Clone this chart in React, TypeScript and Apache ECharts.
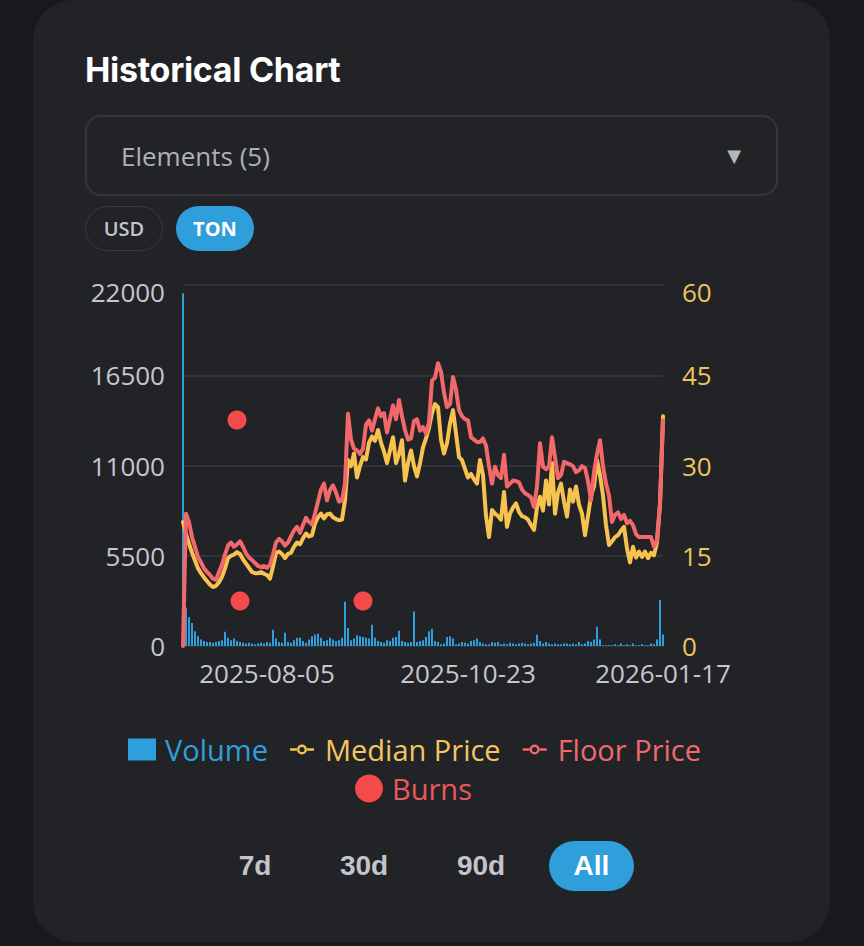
import React, { useEffect, useRef } from 'react';
import * as echarts from 'echarts';

// ---- data ----
const DATE_ANCHORS: [number, string][] = [
  [0, '2025-07-08'],
  [28, '2025-08-05'],
  [95, '2025-10-23'],
  [160, '2026-01-17'],
];
const LABEL_DATES = ['2025-08-05', '2025-10-23', '2026-01-17'];

const VOLUME = [
  21500, 2350, 1750, 1400, 900, 600, 400, 300, 250, 250,
  200, 250, 300, 350, 870, 500, 350, 450, 300, 250,
  200, 150, 200, 150, 100, 150, 200, 150, 250, 200,
  990, 450, 250, 200, 810, 250, 200, 350, 500, 500,
  300, 200, 400, 600, 700, 750, 500, 300, 350, 500,
  400, 300, 350, 500, 2700, 1100, 350, 450, 650, 600,
  550, 500, 450, 1300, 500, 300, 250, 200, 350, 300,
  500, 550, 930, 300, 250, 200, 250, 2100, 250, 300,
  350, 550, 900, 1050, 300, 250, 100, 150, 550, 600,
  450, 100, 150, 250, 200, 150, 300, 350, 450, 250,
  150, 100, 100, 250, 200, 250, 100, 150, 100, 200,
  150, 100, 150, 200, 150, 100, 150, 200, 680, 300,
  150, 250, 150, 100, 150, 100, 100, 150, 150, 100,
  150, 100, 250, 100, 150, 300, 250, 400, 1180, 400,
  50, 50, 50, 50, 100, 50, 150, 50, 100, 50,
  150, 50, 50, 100, 50, 50, 150, 100, 400, 2800,
  700,
];

const MEDIAN_PRICE = [
  20.6, 18.6, 17.0, 15.5, 14.2, 12.9, 12.1, 11.4, 10.8, 10.2,
  9.8, 10.0, 10.6, 11.5, 12.9, 14.6, 15.0, 15.2, 15.6, 15.3,
  14.4, 13.7, 13.0, 12.3, 12.1, 12.1, 12.3, 12.0, 11.8, 11.2,
  13.2, 15.5, 15.7, 15.3, 14.6, 15.3, 15.5, 16.5, 17.2, 16.9,
  17.9, 18.7, 18.2, 18.4, 20.4, 21.4, 22.0, 21.2, 21.9, 22.0,
  21.4, 21.1, 20.9, 21.0, 24.2, 30.9, 29.9, 32.0, 28.0, 29.9,
  31.4, 31.0, 33.8, 34.8, 34.1, 35.9, 33.8, 32.3, 30.4, 32.5,
  34.7, 30.4, 31.9, 34.2, 27.5, 30.4, 32.5, 29.9, 28.2, 30.4,
  33.0, 34.5, 36.3, 38.7, 40.2, 39.7, 34.3, 32.0, 33.7, 37.0,
  39.2, 35.3, 31.4, 30.9, 29.4, 28.0, 28.6, 27.7, 27.0, 30.9,
  28.4, 21.6, 18.1, 22.6, 22.0, 21.6, 21.0, 25.6, 19.8, 22.0,
  23.0, 23.7, 22.3, 21.6, 21.4, 21.0, 20.1, 19.3, 23.0, 24.8,
  22.5, 27.5, 23.5, 30.4, 22.0, 25.5, 27.0, 24.0, 21.5, 26.0,
  24.0, 26.5, 23.5, 22.0, 18.4, 21.6, 25.0, 26.5, 30.9, 28.4,
  25.0, 20.1, 16.8, 17.4, 18.1, 18.4, 19.2, 19.8, 16.2, 13.9,
  16.5, 14.7, 15.7, 14.8, 15.7, 14.6, 15.5, 15.1, 17.2, 23.5,
  38.2,
];

const FLOOR_PRICE = [
  0, 22.0, 20.6, 18.1, 16.5, 14.8, 13.9, 12.9, 12.3, 11.8,
  11.2, 11.0, 12.3, 13.5, 15.2, 16.7, 17.2, 16.5, 16.9, 17.4,
  16.5, 15.4, 14.7, 14.3, 13.8, 13.3, 13.1, 13.3, 13.0, 13.5,
  15.2, 17.2, 17.8, 17.4, 16.7, 17.2, 18.2, 19.2, 19.8, 18.8,
  20.1, 21.3, 20.6, 20.2, 22.0, 24.0, 26.0, 27.0, 24.2, 25.9,
  26.7, 25.5, 24.0, 24.2, 27.0, 38.6, 34.3, 32.8, 32.5, 31.9,
  32.8, 36.8, 37.5, 35.8, 37.7, 39.5, 38.2, 38.7, 35.5, 37.7,
  40.0, 37.7, 40.9, 38.2, 35.9, 34.3, 34.5, 37.4, 37.7, 35.8,
  36.4, 35.3, 37.2, 44.1, 44.6, 47.0, 45.6, 42.1, 39.7, 40.2,
  44.7, 42.6, 39.2, 38.2, 37.7, 37.5, 34.7, 34.3, 33.9, 33.9,
  34.5, 33.3, 29.9, 27.0, 29.8, 28.4, 27.9, 31.8, 26.5, 27.0,
  27.5, 27.4, 27.2, 26.0, 25.4, 25.1, 24.7, 23.1, 26.5, 33.7,
  29.8, 29.4, 29.8, 34.7, 31.4, 27.9, 28.4, 30.6, 30.4, 30.2,
  29.9, 28.9, 29.2, 29.9, 29.6, 27.4, 24.2, 28.9, 31.9, 34.2,
  29.9, 27.0, 25.0, 20.6, 21.8, 22.2, 21.1, 21.8, 20.4, 20.8,
  20.1, 18.6, 18.1, 18.1, 18.1, 18.1, 18.1, 16.5, 17.6, 23.7,
  37.5,
];

const BURN_INDEX = [18, 19, 60];
const BURN_VALUES = [13770, 2740, 2740];

const LEFT_TICKS = { min: 0, max: 22000, interval: 5500 };
const RIGHT_TICKS = { min: 0, max: 60, interval: 15 };

// ---- colours ----
const BLUE = '#2e9fdb';
const YELLOW = '#f8c24e';
const RED = '#f2686b';
const BURN_RED = '#f44a4a';
const CARD = '#222327';

// legend icon: short line with a hollow circle in the middle (28 x 22 box)
const LINE_ICON =
  'path://M14 0h0.01v0.01h-0.01Z' +
  'M2 9.7H9.3V12.3H2Z' +
  'M19 11A5 5 0 1 0 9 11A5 5 0 1 0 19 11Z' +
  'M16.6 11A2.6 2.6 0 1 1 11.4 11A2.6 2.6 0 1 1 16.6 11Z' +
  'M18.7 9.7H26V12.3H18.7Z' +
  'M14 22h0.01v-0.01h-0.01Z';

function buildDates(): string[] {
  const out: string[] = [];
  const day = 86400000;
  for (let s = 0; s < DATE_ANCHORS.length - 1; s++) {
    const [i0, d0] = DATE_ANCHORS[s];
    const [i1, d1] = DATE_ANCHORS[s + 1];
    const t0 = Date.parse(d0 + 'T00:00:00Z');
    const t1 = Date.parse(d1 + 'T00:00:00Z');
    const days = Math.round((t1 - t0) / day);
    for (let i = i0; i < i1; i++) {
      const t = t0 + Math.round((days * (i - i0)) / (i1 - i0)) * day;
      out.push(new Date(t).toISOString().slice(0, 10));
    }
  }
  out.push(DATE_ANCHORS[DATE_ANCHORS.length - 1][1]);
  return out;
}

const AXIS_FONT = '"Open Sans", sans-serif';

function Chart() {
  const ref = useRef<HTMLDivElement>(null);
  useEffect(() => {
    if (!ref.current) return;
    const chart = echarts.init(ref.current, undefined, { renderer: 'svg' });
    const dates = buildDates();
    const labelFont = { fontFamily: AXIS_FONT, fontSize: 26, lineHeight: 24 };
    const legendText = {
      fontFamily: AXIS_FONT,
      fontSize: 29,
      lineHeight: 28,
      padding: [0, 0, 0, 4],
    };
    chart.setOption({
      animation: false,
      backgroundColor: 'transparent',
      grid: { left: 150, top: 20, width: 480, height: 361, containLabel: false },
      legend: [
        {
          left: 95,
          top: 470,
          padding: 0,
          itemWidth: 28,
          itemHeight: 22,
          itemGap: 22,
          textStyle: legendText,
          data: [
            { name: 'Volume', icon: 'rect', textStyle: { color: BLUE } },
            { name: 'Median Price', icon: LINE_ICON, textStyle: { color: '#f4c560' } },
            { name: 'Floor Price', icon: LINE_ICON, textStyle: { color: '#ee6a6e' } },
          ],
        },
        {
          left: 322,
          top: 509,
          padding: 0,
          itemWidth: 28,
          itemHeight: 28,
          textStyle: legendText,
          data: [{ name: 'Burns', icon: 'circle', textStyle: { color: '#e9595c' } }],
        },
      ],
      xAxis: {
        type: 'category',
        data: dates,
        boundaryGap: false,
        axisLine: { show: false },
        axisTick: { show: false },
        axisLabel: {
          color: '#c6c7cf',
          ...labelFont,
          margin: 15,
          interval: (_idx: number, val: string) => LABEL_DATES.includes(val),
        },
      },
      yAxis: [
        {
          type: 'value',
          ...LEFT_TICKS,
          position: 'left',
          axisLine: { show: false },
          axisTick: { show: false },
          splitLine: { lineStyle: { color: '#393a40', width: 1.5 } },
          axisLabel: {
            color: '#c6c7cf',
            ...labelFont,
            margin: 18,
            formatter: (v: number) => (v === LEFT_TICKS.max ? `{t|${v}}` : `${v}`),
            rich: { t: { ...labelFont, color: '#c6c7cf', padding: [14, 0, 0, 0] } },
          },
        },
        {
          type: 'value',
          ...RIGHT_TICKS,
          position: 'right',
          axisLine: { show: false },
          axisTick: { show: false },
          splitLine: { show: false },
          axisLabel: {
            color: '#efc45e',
            ...labelFont,
            margin: 19,
            formatter: (v: number) => (v === RIGHT_TICKS.max ? `{t|${v}}` : `${v}`),
            rich: { t: { ...labelFont, color: '#efc45e', padding: [14, 0, 0, 0] } },
          },
        },
      ],
      series: [
        {
          name: 'Volume',
          type: 'bar',
          yAxisIndex: 0,
          data: VOLUME,
          barWidth: 2,
          itemStyle: { color: BLUE },
        },
        {
          name: 'Median Price',
          type: 'line',
          yAxisIndex: 1,
          data: MEDIAN_PRICE,
          symbol: 'circle',
          showSymbol: false,
          itemStyle: { color: YELLOW },
          lineStyle: { color: YELLOW, width: 4, cap: 'round', join: 'round' },
        },
        {
          name: 'Floor Price',
          type: 'line',
          yAxisIndex: 1,
          data: FLOOR_PRICE,
          symbol: 'circle',
          showSymbol: false,
          itemStyle: { color: RED },
          lineStyle: { color: RED, width: 4, cap: 'round', join: 'round' },
        },
        {
          name: 'Burns',
          type: 'scatter',
          yAxisIndex: 0,
          symbolSize: 19,
          itemStyle: { color: BURN_RED, opacity: 1 },
          data: BURN_INDEX.map((i, k) => [dates[i], BURN_VALUES[k]]),
        },
      ],
    });
    return () => chart.dispose();
  }, []);
  return (
    <div
      ref={ref}
      style={{ position: 'absolute', left: 33, top: 265, width: 797, height: 560 }}
    />
  );
}

const pill: React.CSSProperties = {
  position: 'absolute',
  boxSizing: 'border-box',
  display: 'flex',
  alignItems: 'center',
  justifyContent: 'center',
};

export default function App() {
  return (
    <div
      style={{
        position: 'fixed',
        left: 0,
        top: 0,
        width: 864,
        height: 946,
        background: '#18191c',
        overflow: 'hidden',
        fontFamily: AXIS_FONT,
      }}
    >
      <div
        style={{
          position: 'absolute',
          left: 33,
          top: 0,
          width: 797,
          height: 942,
          background: CARD,
          borderRadius: 40,
        }}
      />
      <div
        style={{
          position: 'absolute',
          left: 85,
          top: 49,
          fontFamily: 'Inter, sans-serif',
          fontWeight: 700,
          fontSize: 34,
          lineHeight: '42px',
          color: '#ffffff',
          letterSpacing: -0.3,
        }}
      >
        Historical Chart
      </div>
      <div
        style={{
          position: 'absolute',
          left: 85,
          top: 115,
          width: 693,
          height: 81,
          boxSizing: 'border-box',
          border: '2px solid #35363b',
          borderRadius: 16,
        }}
      >
        <div
          style={{
            position: 'absolute',
            left: 34,
            top: 0,
            height: 77,
            display: 'flex',
            alignItems: 'center',
            fontSize: 26,
            fontWeight: 500,
            color: '#aeafb7',
          }}
        >
          Elements (5)
        </div>
        <div
          style={{
            position: 'absolute',
            right: 35,
            top: 0,
            height: 77,
            display: 'flex',
            alignItems: 'center',
            fontFamily: 'DejaVu Sans, sans-serif',
            fontSize: 18,
            color: '#b4b5bd',
          }}
        >
          ▼
        </div>
      </div>
      <div
        style={{
          ...pill,
          left: 85,
          top: 206,
          width: 78,
          height: 45,
          borderRadius: 23,
          border: '1.5px solid #393a40',
          color: '#c3c4cc',
          fontSize: 20,
          fontWeight: 600,
        }}
      >
        USD
      </div>
      <div
        style={{
          ...pill,
          left: 176,
          top: 206,
          width: 78,
          height: 45,
          borderRadius: 23,
          background: BLUE,
          color: '#ffffff',
          fontSize: 20,
          fontWeight: 700,
        }}
      >
        TON
      </div>
      <Chart />
      {[
        { t: '7d', cx: 255 },
        { t: '30d', cx: 364 },
        { t: '90d', cx: 481 },
      ].map((b) => (
        <div
          key={b.t}
          style={{
            ...pill,
            left: b.cx - 40,
            top: 841,
            width: 80,
            height: 50,
            fontFamily: '"Liberation Sans", Arial, sans-serif',
            fontWeight: 700,
            fontSize: 28,
            color: '#c3c4cc',
          }}
        >
          {b.t}
        </div>
      ))}
      <div
        style={{
          ...pill,
          left: 549,
          top: 841,
          width: 85,
          height: 50,
          borderRadius: 25,
          background: BLUE,
          fontFamily: '"Liberation Sans", Arial, sans-serif',
          fontWeight: 700,
          fontSize: 28,
          color: '#ffffff',
        }}
      >
        All
      </div>
    </div>
  );
}
